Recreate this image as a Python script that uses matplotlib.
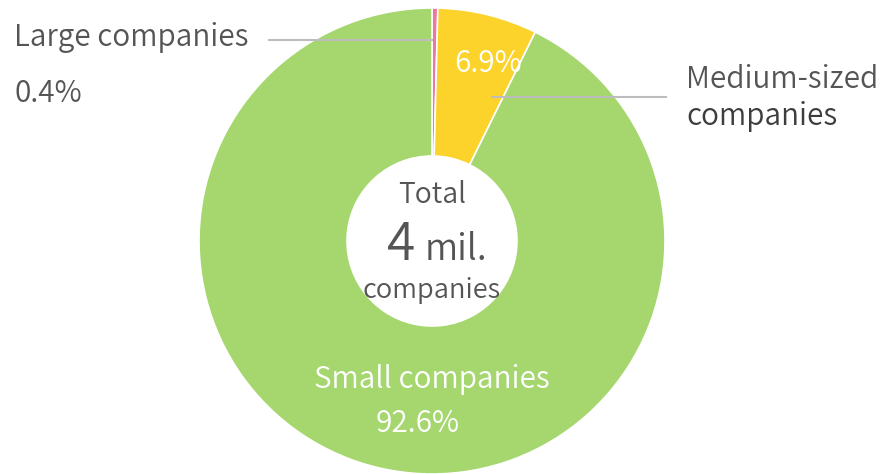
import matplotlib
matplotlib.use("Agg")
import matplotlib.pyplot as plt

plt.rcParams['font.family'] = ['Noto Sans CJK JP', 'DejaVu Sans']
plt.rcParams['font.weight'] = 350

# share of companies by size
categories = ['Large companies', 'Medium-sized companies', 'Small companies']
shares = [0.4, 6.9, 92.6]
colors = ['#EE77A0', '#FCD32A', '#A5D76E']

total_value = '4'
total_unit = 'mil.'

W, H = 884, 474
text_grey = '#555555'
line_grey = '#BDBDBD'

fig = plt.figure(figsize=(W / 100, H / 100), dpi=100)
ax = fig.add_axes([0, 0, 1, 1])

cx, cy = 432, H - 241
r_out, r_in = 233, 85

ax.pie(shares, colors=colors, startangle=90, counterclock=False,
       center=(cx, cy), radius=r_out, frame=True,
       wedgeprops=dict(width=r_out - r_in, edgecolor='white', linewidth=1.2))
ax.set_xlim(0, W)
ax.set_ylim(0, H)
ax.set_aspect('equal')
ax.axis('off')

fs = 21.4

# leader lines
ax.plot([269, 432], [H - 40, H - 40], color=line_grey, lw=1.5, zorder=5)
ax.plot([492, 666], [H - 97, H - 97], color=line_grey, lw=1.5, zorder=5)

# large companies (outside, left)
ax.text(14, H - 46, categories[0], fontsize=fs, color=text_grey, ha='left', va='baseline')
ax.text(14, H - 102, f'{shares[0]}%', fontsize=fs, color=text_grey, ha='left', va='baseline')

# medium-sized companies (outside, right)
ax.text(686, H - 88, 'Medium-sized', fontsize=fs, color=text_grey, ha='left', va='baseline')
ax.text(686, H - 125, 'companies', fontsize=fs, color='#3d3d3d', ha='left', va='baseline')
ax.text(488, H - 72, f'{shares[1]}%', fontsize=fs, color='white', ha='center', va='baseline')

# small companies (inside the ring)
ax.text(432, H - 388, categories[2], fontsize=fs, color='white', ha='center', va='baseline')
ax.text(418, H - 432, f'{shares[2]}%', fontsize=fs, color='white', ha='center', va='baseline')

# total in the middle
ax.text(432, H - 203, 'Total', fontsize=fs - 1, color=text_grey, ha='center', va='baseline')
ax.text(415, H - 260, total_value, fontsize=37, color=text_grey, ha='right', va='baseline')
ax.text(425, H - 260, total_unit, fontsize=26, color=text_grey, ha='left', va='baseline')
ax.text(432, H - 298, 'companies', fontsize=19.6, color=text_grey, ha='center', va='baseline')

fig.savefig('out.png', dpi=100)
